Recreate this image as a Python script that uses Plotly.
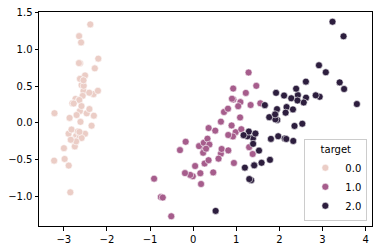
import plotly.graph_objects as go

pc1 = [-2.684, -2.714, -2.889, -2.745, -2.729, -2.281, -2.821, -2.626, -2.886, -2.673,
       -2.507, -2.613, -2.786, -3.224, -2.645, -2.386, -2.624, -2.648, -2.200, -2.588,
       -2.310, -2.544, -3.216, -2.303, -2.356, -2.507, -2.469, -2.562, -2.640, -2.632,
       -2.587, -2.410, -2.649, -2.599, -2.637, -2.866, -2.625, -2.801, -2.981, -2.590,
       -2.770, -2.849, -2.997, -2.406, -2.209, -2.714, -2.538, -2.839, -2.543, -2.703,
       1.285, 0.932, 1.464, 0.183, 1.088, 0.642, 1.095, -0.749, 1.044, -0.009,
       -0.508, 0.512, 0.265, 0.985, -0.174, 0.928, 0.660, 0.236, 0.945, 0.045,
       1.116, 0.358, 1.298, 0.922, 0.715, 0.900, 1.332, 1.558, 0.813, -0.306,
       -0.068, -0.190, 0.136, 1.380, 0.588, 0.807, 1.221, 0.815, 0.246, 0.166,
       0.465, 0.891, 0.231, -0.705, 0.357, 0.332, 0.376, 0.643, -0.906, 0.299,
       2.531, 1.415, 2.617, 1.972, 2.350, 3.397, 0.521, 2.933, 2.321, 2.917,
       1.662, 1.803, 2.166, 1.346, 1.586, 1.904, 1.950, 3.487, 3.796, 1.301,
       2.428, 1.199, 3.500, 1.389, 2.275, 2.614, 1.259, 1.291, 2.124, 2.388,
       2.842, 3.231, 2.159, 1.444, 1.781, 3.076, 2.144, 1.905, 1.169, 2.108,
       2.314, 1.922, 1.415, 2.563, 2.419, 1.944, 1.527, 1.764, 1.901, 1.390]
pc2 = [0.319, -0.177, -0.145, -0.318, 0.327, 0.741, -0.089, 0.163, -0.578, -0.114,
       0.645, 0.015, -0.235, -0.511, 1.179, 1.338, 0.811, 0.312, 0.873, 0.514,
       0.391, 0.433, 0.133, 0.099, -0.037, -0.146, 0.131, 0.368, 0.312, -0.197,
       -0.204, 0.411, 0.813, 1.093, -0.121, 0.069, 0.599, 0.269, -0.488, 0.229,
       0.264, -0.941, -0.342, 0.189, 0.437, -0.250, 0.504, -0.228, 0.579, 0.108,
       0.685, 0.318, 0.504, -0.828, 0.075, -0.418, 0.283, -1.005, 0.228, -0.723,
       -1.266, -0.104, -0.550, -0.125, -0.255, 0.467, -0.353, -0.334, -0.543, -0.584,
       -0.085, -0.069, -0.328, -0.183, 0.149, 0.329, 0.244, 0.267, -0.163, -0.368,
       -0.705, -0.680, -0.314, -0.421, -0.484, 0.194, 0.408, -0.372, -0.269, -0.682,
       -0.671, -0.034, -0.404, -1.012, -0.505, -0.213, -0.293, 0.018, -0.756, -0.349,
       -0.010, -0.575, 0.344, -0.180, -0.040, 0.551, -1.193, 0.356, -0.244, 0.783,
       0.242, -0.216, 0.216, -0.777, -0.540, 0.119, 0.042, 1.176, 0.257, -0.761,
       0.378, -0.606, 0.461, -0.204, 0.335, 0.561, -0.180, -0.117, -0.210, 0.465,
       0.375, 1.374, -0.217, -0.143, -0.500, 0.688, 0.140, 0.049, -0.165, 0.372,
       0.184, 0.409, -0.575, 0.278, 0.305, 0.188, -0.375, 0.079, 0.117, -0.283]
target = [0.0] * 50 + [1.0] * 50 + [2.0] * 50
classes = [0.0, 1.0, 2.0]
class_labels = ["0.0", "1.0", "2.0"]
colors = ["#ebcdc6", "#a65d8c", "#2d1e3e"]

fig = go.Figure()
for c, lab, col in zip(classes, class_labels, colors):
    xs = [x for x, t in zip(pc1, target) if t == c]
    ys = [y for y, t in zip(pc2, target) if t == c]
    fig.add_trace(go.Scatter(
        x=xs, y=ys, mode="markers", name=lab,
        marker=dict(size=7, color=col, line=dict(color="white", width=0.6)),
    ))

axis_common = dict(
    showgrid=False, zeroline=False, showline=True, linecolor="black", linewidth=1,
    mirror=True, ticks="outside", ticklen=3.5, tickwidth=1, tickcolor="black",
    tickfont=dict(family="DejaVu Sans", size=10, color="black"),
)
fig.update_xaxes(range=[-3.575, 4.147], tickvals=[-3, -2, -1, 0, 1, 2, 3, 4],
                 ticktext=["\u22123", "\u22122", "\u22121", "0", "1", "2", "3", "4"], **axis_common)
fig.update_yaxes(range=[-1.398, 1.506], tickvals=[-1.0, -0.5, 0.0, 0.5, 1.0, 1.5],
                 ticktext=["\u22121.0", "\u22120.5", "0.0", "0.5", "1.0", "1.5"], **axis_common)

fig.update_layout(
    width=380, height=252,
    margin=dict(l=39, r=7, t=11, b=24),
    paper_bgcolor="white", plot_bgcolor="white",
    font=dict(family="DejaVu Sans", size=10, color="black"),
    legend=dict(
        title=dict(text="target", side="top center", font=dict(size=10)),
        x=0.986, y=0.022, xanchor="right", yanchor="bottom",
        bordercolor="#cccccc", borderwidth=1, bgcolor="rgba(255,255,255,0.8)",
        font=dict(size=10), itemwidth=30, tracegroupgap=0,
    ),
)

fig.write_html("out.html")
